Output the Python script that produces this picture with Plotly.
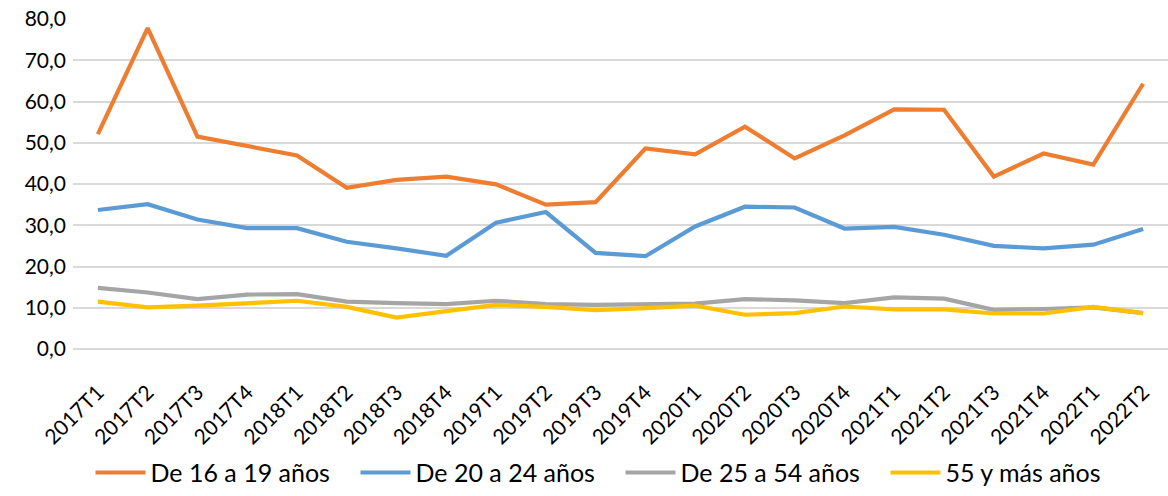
import plotly.graph_objects as go

categories = ["2017T1","2017T2","2017T3","2017T4","2018T1","2018T2","2018T3","2018T4",
              "2019T1","2019T2","2019T3","2019T4","2020T1","2020T2","2020T3","2020T4",
              "2021T1","2021T2","2021T3","2021T4","2022T1","2022T2"]

de_16_19 = [52.1, 77.8, 51.5, 49.3, 46.9, 39.1, 41.0, 41.8, 39.9, 35.0, 35.6,
            48.6, 47.2, 53.9, 46.2, 51.8, 58.1, 58.0, 41.8, 47.4, 44.7, 64.3]
de_20_24 = [33.7, 35.1, 31.4, 29.3, 29.3, 26.0, 24.4, 22.6, 30.6, 33.2, 23.3,
            22.5, 29.7, 34.5, 34.3, 29.2, 29.6, 27.7, 25.0, 24.4, 25.3, 29.1]
de_25_54 = [14.8, 13.7, 12.1, 13.2, 13.3, 11.5, 11.1, 10.9, 11.7, 10.9, 10.7,
            10.8, 11.0, 12.1, 11.8, 11.1, 12.5, 12.2, 9.5, 9.7, 10.1, 8.7]
de_55_mas = [11.5, 10.1, 10.5, 11.2, 11.7, 10.2, 7.6, 9.2, 10.7, 10.2, 9.4,
             9.9, 10.5, 8.3, 8.7, 10.3, 9.6, 9.6, 8.6, 8.6, 10.2, 8.7]

series_names = ["De 16 a 19 años", "De 20 a 24 años", "De 25 a 54 años", "55 y más años"]
series_colors = ["#ED7D31", "#5B9BD5", "#A5A5A5", "#FFC000"]
y_ticks = [0, 10, 20, 30, 40, 50, 60, 70, 80]

fig = go.Figure()
for name, vals, col in zip(series_names, [de_16_19, de_20_24, de_25_54, de_55_mas], series_colors):
    fig.add_trace(go.Scatter(x=categories, y=vals, name=name, mode="lines",
                             line=dict(color=col, width=4.2, shape="linear"),
                             hoverinfo="x+y+name"))

fig.update_layout(
    width=1168, height=496,
    margin=dict(l=73, r=0, t=19, b=142),
    paper_bgcolor="white", plot_bgcolor="white",
    separators=",.",
    font=dict(family="Lato, 'Open Sans', sans-serif", size=21, color="#000000"),
    showlegend=True,
    legend=dict(orientation="h", x=0.5, xanchor="center", y=-0.375, yanchor="middle",
                font=dict(size=25), itemwidth=50, entrywidth=200, traceorder="normal"),
    xaxis=dict(type="category", range=[-0.5, len(categories) - 0.5], tickangle=-45,
               showgrid=False, showline=False, ticks="", ticklabelstandoff=26,
               tickfont=dict(size=21), automargin=False),
    yaxis=dict(range=[0, 80], tickvals=y_ticks, tickformat=".1f", showgrid=True,
               gridcolor="#D9D9D9", gridwidth=1.5, zeroline=True, zerolinecolor="#D9D9D9",
               zerolinewidth=1.5, showline=False, ticks="", ticklabelstandoff=6,
               tickfont=dict(size=21), automargin=False),
)

fig.write_html("out.html", config={"displayModeBar": False},
               post_script="document.body.style.margin='0px';")
